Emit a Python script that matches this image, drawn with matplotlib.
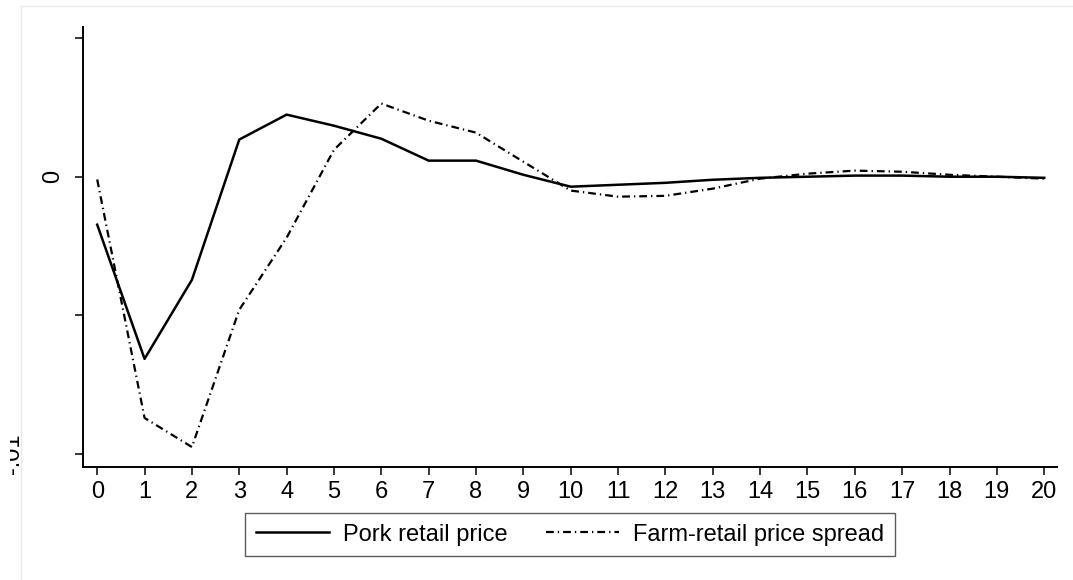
import matplotlib.pyplot as plt
import matplotlib.transforms as mtransforms
from matplotlib.lines import Line2D
import numpy as np

plt.rcParams['font.family'] = ['Liberation Sans', 'DejaVu Sans']

steps = list(range(21))
pork_retail = [-0.00173, -0.00657, -0.00372, 0.00134, 0.00224, 0.00184, 0.00137,
               0.00058, 0.00058, 0.00007, -0.00036, -0.00029, -0.00022, -0.00011,
               -0.00004, 0.00000, 0.00004, 0.00004, 0.00000, 0.00000, -0.00004]
price_spread = [-0.00010, -0.00870, -0.00975, -0.00480, -0.00220, 0.00097, 0.00264,
                0.00202, 0.00159, 0.00054, -0.00050, -0.00072, -0.00069, -0.00043,
                -0.00007, 0.00011, 0.00022, 0.00018, 0.00007, 0.00000, -0.00007]
y_ticks = [-0.01, -0.005, 0, 0.005]
y_labels = ['-.01', '', '0', '']

W, H = 1073, 580
fs = 17
fig = plt.figure(figsize=(W / 100, H / 100), dpi=100)
ax = fig.add_axes([83 / W, 1 - 467 / H, (1057 - 83) / W, (467 - 27) / H])

ax.plot(steps, pork_retail, color='black', lw=1.8, label='Pork retail price')
ax.plot(steps, price_spread, color='black', lw=1.6,
        linestyle=(0, (3.5, 1.8, 0.6, 1.8)), label='Farm-retail price spread')

ax.set_xlim(-0.3, 20.27)
ax.set_ylim(-0.01047, 0.0054)
ax.set_xticks(steps)
ax.set_yticks(y_ticks)
ax.set_yticklabels(y_labels, rotation=90, va='center')

for side in ['top', 'right']:
    ax.spines[side].set_visible(False)
for side in ['left', 'bottom']:
    ax.spines[side].set_linewidth(1.4)
ax.tick_params(axis='both', length=5.8, width=1.1, labelsize=fs)
ax.tick_params(axis='x', pad=4.5)
ax.tick_params(axis='y', pad=7.5)

# the -.01 label sits far left and is cut off in the original
lab = ax.get_yticklabels()[0]
lab.set_transform(lab.get_transform() + mtransforms.ScaledTranslation(-41 / 100, 0, fig.dpi_scale_trans))
lab.set_clip_on(True)
lab.set_clip_box(mtransforms.Bbox.from_extents(10, 0, W, H))

leg = ax.legend(loc='upper center', bbox_to_anchor=(0.5, -46 / 440), ncol=2, fontsize=fs,
                frameon=True, fancybox=False, edgecolor='#333333', handlelength=3.1,
                columnspacing=1.6, borderpad=0.45, handletextpad=0.6, borderaxespad=0)
leg.get_frame().set_linewidth(1.0)

# faint outer frame
fig.add_artist(Line2D([21 / W, 21 / W], [0, 1 - 6 / H], color='#e4eaef', lw=1))
fig.add_artist(Line2D([21 / W, 1], [1 - 6 / H, 1 - 6 / H], color='#e4eaef', lw=1))

fig.savefig('out.png', dpi=100)
